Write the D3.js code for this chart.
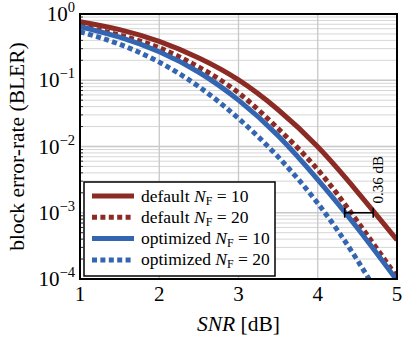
<!DOCTYPE html>
<html>
<head>
<meta charset="utf-8">
<script src="https://cdn.jsdelivr.net/npm/d3@7"></script>
<style>
  body { margin: 0; background: #fff; }
  svg { display: block; font-family: "Liberation Serif", "DejaVu Serif", serif; }
</style>
</head>
<body>
<div id="chart"></div>
<script>
// values
var snr = [1, 1.5, 2, 2.5, 3, 3.5, 4, 4.5, 5];
var defaultNF10 = [0.767, 0.582, 0.385, 0.216, 0.101, 0.0359, 0.00989, 0.00207, 0.000389];
var defaultNF20 = [0.661, 0.479, 0.309, 0.158, 0.0646, 0.0186, 0.00447, 0.000741, 0.000107];
var optimNF10   = [0.646, 0.447, 0.269, 0.132, 0.0501, 0.0145, 0.00316, 0.000589, 0.0000955];
var optimNF20   = [0.541, 0.349, 0.1875, 0.080, 0.0265, 0.00697, 0.00139, 0.000192, 0.0000192];

var xTicks = [1, 2, 3, 4, 5];
var yTicks = [1e-4, 1e-3, 1e-2, 1e-1, 1];
var yExp = ["\u22124", "\u22123", "\u22122", "\u22121", "0"];

var legendNames = ["default", "default", "optimized", "optimized"];
var legendNF = ["10", "20", "10", "20"];

// gain annotation
var gapLeft = 4.34, gapRight = 4.70, gapLevel = 1e-3, gapText = "0.36 dB";

var red = "#8c2a24", blue = "#3465b0";

var series = [
  { values: defaultNF10, color: red, dashed: false },
  { values: defaultNF20, color: red, dashed: true },
  { values: optimNF10, color: blue, dashed: false },
  { values: optimNF20, color: blue, dashed: true }
];

var W = 409, H = 339;
var margin = { top: 14, right: 12, bottom: 60, left: 80 };

var svg = d3.select("#chart").append("svg")
  .attr("width", W)
  .attr("height", H);

var x = d3.scaleLinear().domain([1, 5]).range([margin.left, W - margin.right]);
var y = d3.scaleLog().domain([1e-4, 1]).range([H - margin.bottom, margin.top]);

svg.append("defs").append("clipPath").attr("id", "clip")
  .append("rect")
    .attr("x", x(1)).attr("y", y(1))
    .attr("width", x(5) - x(1)).attr("height", y(1e-4) - y(1));

// grid: minor horizontal lines
var minor = [];
for (var e = -4; e < 0; e++) {
  for (var m = 2; m <= 9; m++) minor.push(m * Math.pow(10, e));
}
svg.append("g").selectAll("line").data(minor).join("line")
  .attr("x1", x(1)).attr("x2", x(5))
  .attr("y1", d => y(d)).attr("y2", d => y(d))
  .attr("stroke", "#d6d6d6").attr("stroke-width", 1);

svg.append("g").selectAll("line").data(yTicks.slice(1, -1)).join("line")
  .attr("x1", x(1)).attr("x2", x(5))
  .attr("y1", d => y(d)).attr("y2", d => y(d))
  .attr("stroke", "#c8c8c8").attr("stroke-width", 1.3);

svg.append("g").selectAll("line").data(xTicks.slice(1, -1)).join("line")
  .attr("x1", d => x(d)).attr("x2", d => x(d))
  .attr("y1", y(1)).attr("y2", y(1e-4))
  .attr("stroke", "#c8c8c8").attr("stroke-width", 1.3);

// minor ticks inside the left axis
svg.append("g").selectAll("line").data(minor).join("line")
  .attr("x1", x(1)).attr("x2", x(1) + 3)
  .attr("y1", d => y(d)).attr("y2", d => y(d))
  .attr("stroke", "#000").attr("stroke-width", 0.8);

// curves
var line = d3.line()
  .x((d, i) => x(snr[i]))
  .y(d => y(d))
  .curve(d3.curveNatural);

var curves = svg.append("g").attr("clip-path", "url(#clip)");
series.forEach(function (s) {
  curves.append("path")
    .attr("d", line(s.values))
    .attr("fill", "none")
    .attr("stroke", s.color)
    .attr("stroke-width", 5)
    .attr("stroke-dasharray", s.dashed ? "5,3.4" : null);
});

// frame
svg.append("rect")
  .attr("x", x(1)).attr("y", y(1))
  .attr("width", x(5) - x(1)).attr("height", y(1e-4) - y(1))
  .attr("fill", "none").attr("stroke", "#000").attr("stroke-width", 2);

// x tick labels
svg.append("g").selectAll("text").data(xTicks).join("text")
  .attr("x", d => x(d)).attr("y", y(1e-4) + 22)
  .attr("text-anchor", "middle")
  .attr("font-size", 21)
  .text(d => d);

// y tick labels 10^k
var yl = svg.append("g").selectAll("text").data(yTicks).join("text")
  .attr("x", x(1) - 5).attr("y", d => y(d) + 7)
  .attr("text-anchor", "end")
  .attr("font-size", 21);
yl.append("tspan").text("10");
yl.append("tspan").attr("dy", -9).attr("font-size", 14.5).text((d, i) => yExp[i]);

// axis labels
var xl = svg.append("text")
  .attr("x", (x(1) + x(5)) / 2).attr("y", H - 8)
  .attr("text-anchor", "middle")
  .attr("font-size", 21.5);
xl.append("tspan").attr("font-style", "italic").text("SNR");
xl.append("tspan").text(" [dB]");

svg.append("text")
  .attr("transform", "translate(24," + ((y(1) + y(1e-4)) / 2) + ") rotate(-90)")
  .attr("text-anchor", "middle")
  .attr("font-size", 21.5)
  .text("block error-rate (BLER)");

// annotation bracket
var ann = svg.append("g").attr("stroke", "#000").attr("stroke-width", 1.6);
ann.append("line")
  .attr("x1", x(gapLeft)).attr("x2", x(gapRight))
  .attr("y1", y(gapLevel)).attr("y2", y(gapLevel));
[gapLeft, gapRight].forEach(function (g) {
  ann.append("line")
    .attr("x1", x(g)).attr("x2", x(g))
    .attr("y1", y(gapLevel) - 5).attr("y2", y(gapLevel) + 5);
});
svg.append("text")
  .attr("transform", "translate(" + (x(gapRight) + 10) + "," + (y(gapLevel) - 33) + ") rotate(-90)")
  .attr("text-anchor", "middle")
  .attr("font-size", 15)
  .text(gapText);

// legend
var lg = svg.append("g").attr("transform", "translate(84,182)");
lg.append("rect")
  .attr("width", 191).attr("height", 94)
  .attr("fill", "#fff").attr("stroke", "#000").attr("stroke-width", 1.5);

var rows = lg.selectAll("g.row").data(series).join("g")
  .attr("class", "row")
  .attr("transform", (d, i) => "translate(0," + (14 + i * 21.3) + ")");
rows.append("line")
  .attr("x1", 8).attr("x2", 50)
  .attr("stroke", d => d.color)
  .attr("stroke-width", 5)
  .attr("stroke-dasharray", d => d.dashed ? "5,3.4" : null);
var lt = rows.append("text")
  .attr("x", 57).attr("y", 5.5)
  .attr("font-size", 17.5);
lt.append("tspan").text((d, i) => legendNames[i] + " ");
lt.append("tspan").attr("font-style", "italic").text("N");
lt.append("tspan").attr("font-size", 12).attr("dy", 3).text("F");
lt.append("tspan").attr("dy", -3).text((d, i) => " = " + legendNF[i]);
</script>
</body>
</html>
